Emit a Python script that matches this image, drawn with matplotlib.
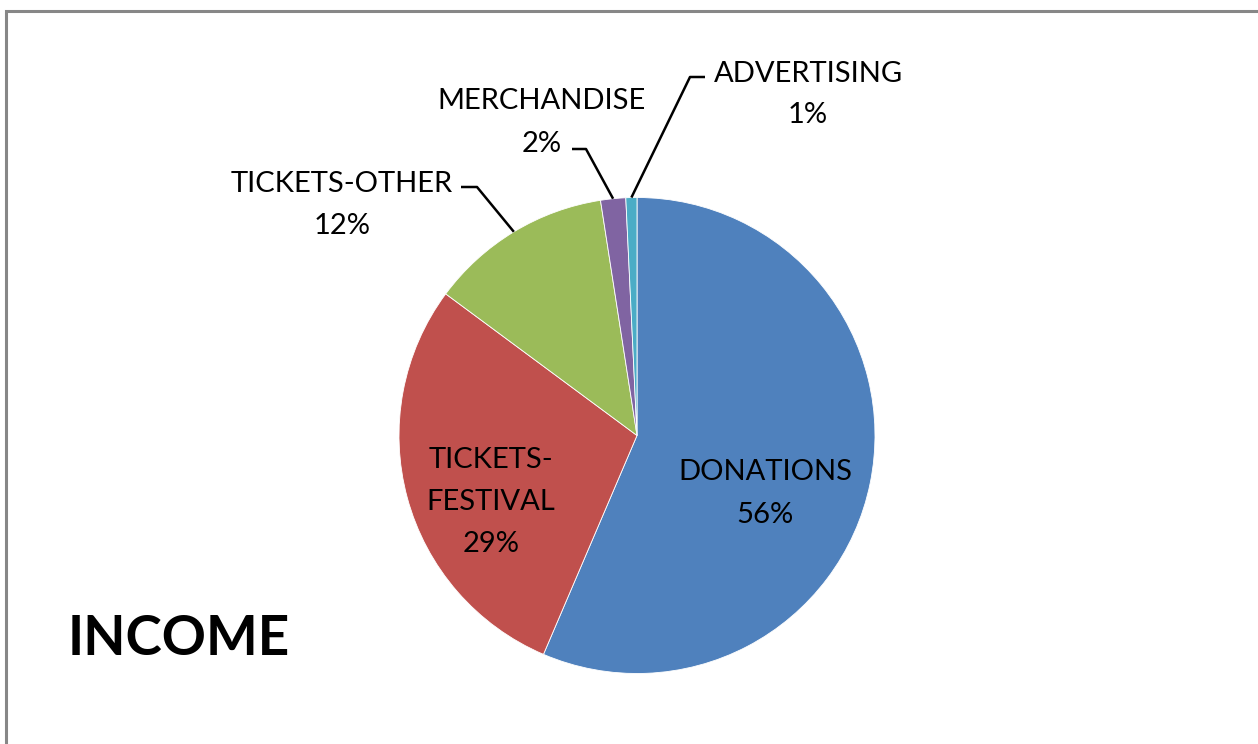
import matplotlib.pyplot as plt
import matplotlib.patches as patches
import numpy as np

plt.rcParams['font.family'] = ['Lato', 'DejaVu Sans']

# Data
categories = ['DONATIONS', 'TICKETS-\nFESTIVAL', 'TICKETS-OTHER', 'MERCHANDISE', 'ADVERTISING']
shares = [56.4, 28.7, 12.4, 1.7, 0.75]
colors = ['#4F81BD', '#C0504D', '#9BBB59', '#8064A2', '#4BACC6']

W, H = 1258, 744
fig = plt.figure(figsize=(W / 100, H / 100), dpi=100)
ax = fig.add_axes([0, 0, 1, 1])

def py(y):
    # pixel row (from top) -> data y
    return H - y

cx, cy, r = 637, py(435.5), 238
wedges, _ = ax.pie(shares, colors=colors, startangle=90, counterclock=False,
                   center=(cx, cy), radius=r, frame=True,
                   wedgeprops=dict(edgecolor='white', linewidth=0.6))
ax.set_xlim(0, W)
ax.set_ylim(0, H)
ax.set_aspect('equal')
ax.axis('off')

total = sum(shares)
# label layout: (x centre, first baseline, line pitch, leader points or None)
layout = [
    (765, 480, 43, None),
    (491, 468, 42, None),
    (342, 192, 42, [(461, 187), (477, 187)]),
    (542, 109, 43, [(572, 149), (586, 149)]),
    (808, 82, 41, [(705, 77), (690, 77)]),
]

fs = 21
for w, cat, val, (x, y0, pitch, lead) in zip(wedges, categories, shares, layout):
    lines = cat.split('\n') + [f'{100 * val / total:.0f}%']
    for i, line in enumerate(lines):
        ax.text(x, py(y0 + i * pitch), line, ha='center', va='baseline',
                fontsize=fs, color='black')
    if lead is not None:
        mid = np.deg2rad((w.theta1 + w.theta2) / 2)
        ex, ey = cx + r * np.cos(mid), cy + r * np.sin(mid)
        xs = [lead[0][0], lead[1][0], ex]
        ys = [py(lead[0][1]), py(lead[1][1]), ey]
        ax.plot(xs, ys, color='black', lw=1.8, solid_capstyle='butt')

ax.text(68, py(655), 'INCOME', ha='left', va='baseline', fontsize=39.5,
        fontweight='bold', color='black')

# chart area border (cut off at right and bottom)
ax.add_patch(patches.Rectangle((6, -20), W + 40, py(11) + 20, fill=False,
                               edgecolor='#878787', lw=2.2, clip_on=False))

fig.savefig('out.png', dpi=100)
